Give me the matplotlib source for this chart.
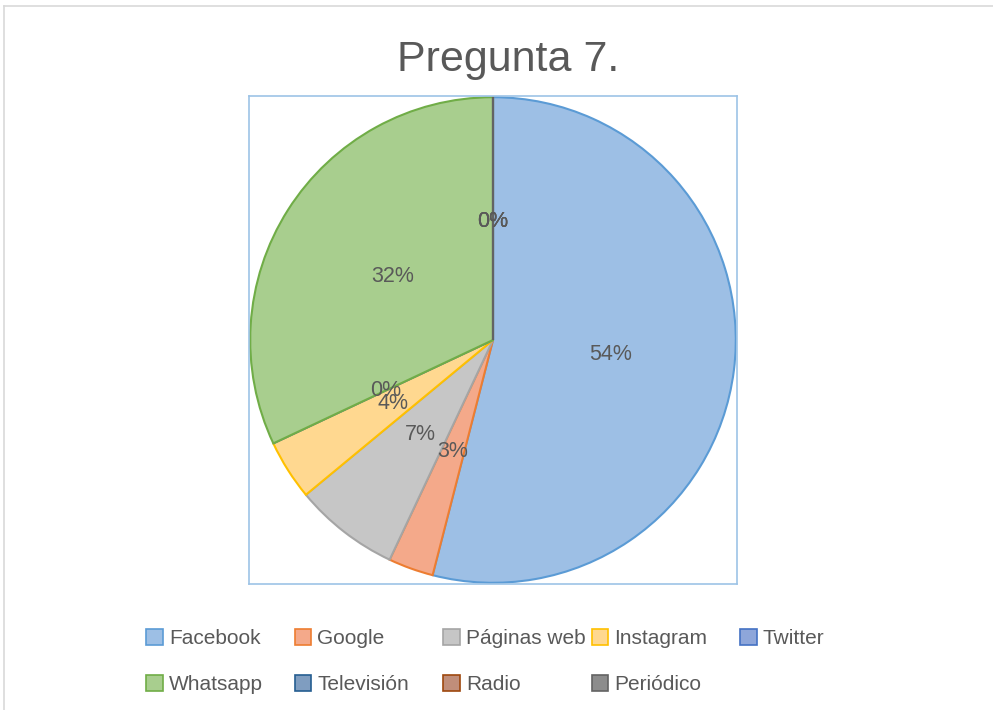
import matplotlib
matplotlib.use("Agg")
import matplotlib.pyplot as plt
from matplotlib.lines import Line2D

plt.rcParams['font.family'] = ['Liberation Sans', 'DejaVu Sans']

categories = ["Facebook", "Google", "Páginas web", "Instagram", "Twitter",
              "Whatsapp", "Televisión", "Radio", "Periódico"]
values = [54, 3, 7, 4, 0, 32, 0, 0, 0]
fills = ["#9DBFE5", "#F4A98A", "#C6C6C6", "#FFD890", "#8EA6DA",
         "#A8CE8E", "#7F9DC0", "#C08E7A", "#8C8C8C"]
edges = ["#5B9BD5", "#ED7D31", "#A5A5A5", "#FFC000", "#4472C4",
         "#70AD47", "#255E91", "#9E480E", "#636363"]
text_color = "#595959"

fig = plt.figure(figsize=(9.93, 7.1), dpi=100)

# chart border (light grey)
fig.add_artist(Line2D([4/993, 4/993], [0, 1 - 6/710], transform=fig.transFigure,
                      color="#D9D9D9", lw=1.2))
fig.add_artist(Line2D([4/993, 1], [1 - 6/710, 1 - 6/710], transform=fig.transFigure,
                      color="#D9D9D9", lw=1.2))

ax = fig.add_axes([249/993, 1 - 584/710, 488/993, 488/710])
wedges, texts, autotexts = ax.pie(
    values, colors=fills, startangle=90, counterclock=False, radius=1,
    autopct=lambda p: f"{p:.0f}%", pctdistance=0.49,
    wedgeprops=dict(linewidth=1.5),
    textprops=dict(color=text_color, fontsize=15.5))
for w, ec in zip(wedges, edges):
    w.set_edgecolor(ec)
ax.set_xlim(-1.005, 1.005)
ax.set_ylim(-1.005, 1.005)
ax.set_frame_on(True)
for s in ax.spines.values():
    s.set_color("#9DC3E6")
    s.set_linewidth(1.2)
ax.set_xticks([])
ax.set_yticks([])

fig.text(508/993, 1 - 60/710, "Pregunta 7.", ha="center", va="center",
         fontsize=31, color=text_color)

# legend: 5 equally spaced columns, two rows (row-major like the original)
handles = [plt.Rectangle((0, 0), 1, 1, facecolor=f, edgecolor=e, lw=1.2)
           for f, e in zip(fills, edges)]
ncol = 5
for c in range(ncol):
    idx = [i for i in (c, c + ncol) if i < len(categories)]
    leg = fig.legend([handles[i] for i in idx], [categories[i] for i in idx],
                     loc="upper left",
                     bbox_to_anchor=((146 + 148.5 * c) / 993, 1 - 629/710),
                     frameon=False, fontsize=15, labelcolor=text_color,
                     handlelength=0.8, handleheight=0.8, handletextpad=0.3,
                     labelspacing=1.3, borderpad=0, borderaxespad=0)

fig.savefig("out.png", dpi=100, facecolor="white")
